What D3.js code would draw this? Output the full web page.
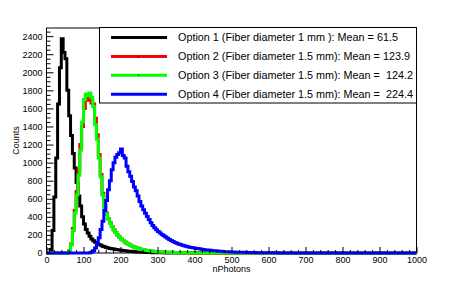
<!DOCTYPE html>
<html>
<head>
<meta charset="utf-8">
<script src="https://cdn.jsdelivr.net/npm/d3@7"></script>
<style>
    body { margin: 0; background: #fff; }
    svg text { font-family: "Liberation Sans", Arial, Helvetica, sans-serif; }
</style>
</head>
<body>
<svg id="chart" width="463" height="282"></svg>
<script>
// Histogram contents, one value per 5-photon bin starting at 0 (bins past the end are empty)
const binWidth = 5;

const option1 = [
    0, 0, 40, 250, 620, 1050, 1650, 2050, 2370, 2220,
    2150, 1800, 1520, 1300, 1100, 940, 780, 630, 520, 400,
    320, 260, 220, 185, 155, 135, 118, 104, 94, 85,
    76, 68, 62, 56, 51, 47, 43, 40, 36, 33,
    30, 27, 24, 22, 20, 18, 16, 14, 12, 11,
    10, 9, 8, 7, 6, 5, 5, 4, 4, 3,
    3, 2, 2, 2, 1, 1, 1, 1
];

const option2 = [
    0, 0, 0, 0, 0, 0, 0, 0, 0, 0, 0, 0,
    25, 100, 270, 470, 680, 910, 1200, 1400, 1600, 1690,
    1720, 1690, 1660, 1650, 1490, 1310, 1090, 870, 660, 520,
    440, 380, 335, 292, 258, 226, 200, 176, 156, 138,
    122, 108, 96, 85, 76, 67, 59, 52, 46, 40,
    36, 31, 28, 24, 22, 19, 17, 15, 14, 12,
    11, 10, 9, 8, 7, 7, 6, 5, 5, 4,
    4, 3, 3, 3, 2, 2, 2, 1, 1, 1, 1
];

const option3 = [
    0, 0, 0, 0, 0, 0, 0, 0, 0, 0, 0, 0,
    20, 90, 250, 440, 640, 860, 1140, 1450, 1700, 1760,
    1740, 1770, 1720, 1620, 1420, 1260, 1050, 840, 640, 500,
    430, 375, 330, 290, 255, 225, 198, 175, 155, 137,
    121, 107, 95, 84, 75, 66, 58, 51, 45, 40,
    35, 31, 27, 24, 21, 19, 17, 15, 13, 12,
    11, 10, 9, 8, 7, 6, 6, 5, 5, 4,
    4, 3, 3, 3, 2, 2, 2, 1, 1, 1, 1
];

const option4 = [
    0, 0, 0, 0, 0, 0, 0, 0, 0, 0, 0, 0, 0, 0, 0, 0, 0, 0, 0, 0, 0, 0, 0,
    3, 10, 25, 55, 100, 170, 260, 350, 470, 580,
    700, 800, 920, 1000, 1060, 1090, 1110, 1150, 1080, 1050,
    960, 900, 850, 790, 730, 690, 630, 570, 520, 480,
    440, 405, 370, 335, 305, 280, 258, 238, 220, 205,
    190, 176, 162, 150, 138, 127, 117, 108, 100, 93,
    86, 80, 74, 70, 65, 61, 57, 53, 49, 46,
    43, 40, 37, 34, 32, 30, 28, 26, 24, 22,
    20, 18, 17, 15, 14, 13, 12, 11, 10, 9,
    9, 8, 8, 7, 7, 6, 6, 5, 5, 5,
    4, 4, 4, 3, 3, 3, 3, 2, 2, 2,
    2, 2, 1, 1, 1, 1, 1, 1, 1
];

const legendLabels = [
    'Option 1 (Fiber diameter 1 mm ): Mean = 61.5',
    'Option 2 (Fiber diameter 1.5 mm): Mean = 123.9',
    'Option 3 (Fiber diameter 1.5 mm): Mean =  124.2',
    'Option 4 (Fiber diameter 1.5 mm): Mean =  224.4'
];
const seriesColors = ['#000000', '#ff0000', '#00ff00', '#0000ff'];

const xTickValues = [0, 100, 200, 300, 400, 500, 600, 700, 800, 900, 1000];
const yTickValues = [0, 200, 400, 600, 800, 1000, 1200, 1400, 1600, 1800, 2000, 2200, 2400];

const xMax = 1000;
const yMax = 2490;

const frame = { left: 46.5, right: 416.5, top: 28, bottom: 253 };

const svg = d3.select('#chart');

const xScale = d3.scaleLinear().domain([0, xMax]).range([frame.left, frame.right]);
const yScale = d3.scaleLinear().domain([0, yMax]).range([frame.bottom, frame.top]);

// Minor tick positions
const xMinor = d3.range(0, xMax + 1, 20).filter(v => v % 100 !== 0);
const yMinor = d3.range(0, yMax, 50).filter(v => v % 200 !== 0);

// Step line for a histogram
function histPoints(values) {
    const nBins = xMax / binWidth;
    const pts = [];
    for (let i = 0; i < nBins; i++) {
        pts.push({ x: i * binWidth, y: values[i] || 0 });
    }
    pts.push({ x: xMax, y: values[nBins - 1] || 0 });
    return pts;
}

const stepLine = d3.line()
    .x(d => xScale(d.x))
    .y(d => yScale(d.y))
    .curve(d3.curveStepAfter);

// Frame
svg.append('rect')
    .attr('x', frame.left)
    .attr('y', frame.top)
    .attr('width', frame.right - frame.left)
    .attr('height', frame.bottom - frame.top)
    .style('fill', '#fff')
    .style('stroke', '#000')
    .style('stroke-width', 1);

// Histograms
[option1, option2, option3, option4].forEach((values, i) => {
    svg.append('path')
        .datum(histPoints(values))
        .attr('d', stepLine)
        .style('fill', 'none')
        .style('stroke', seriesColors[i])
        .style('stroke-width', 3)
        .style('stroke-linejoin', 'miter');
});

// X axis
const xAxis = svg.append('g')
    .attr('transform', `translate(0,${frame.bottom})`)
    .call(d3.axisBottom(xScale)
        .tickValues(xTickValues)
        .tickSize(-6)
        .tickPadding(4)
        .tickFormat(d3.format('d')));
xAxis.append('g')
    .call(d3.axisBottom(xScale)
        .tickValues(xMinor)
        .tickSize(-3)
        .tickFormat(''));

// Y axis
const yAxis = svg.append('g')
    .attr('transform', `translate(${frame.left},0)`)
    .call(d3.axisLeft(yScale)
        .tickValues(yTickValues)
        .tickSize(-7)
        .tickPadding(4)
        .tickFormat(d3.format('d')));
yAxis.append('g')
    .call(d3.axisLeft(yScale)
        .tickValues(yMinor)
        .tickSize(-4)
        .tickFormat(''));

svg.selectAll('.domain').remove();
svg.selectAll('.tick line').style('stroke', '#000');
svg.selectAll('.tick text')
    .style('font-size', '9px')
    .style('fill', '#000');

// Axis titles
svg.append('text')
    .attr('x', (frame.left + frame.right) / 2)
    .attr('y', 272)
    .attr('text-anchor', 'middle')
    .style('font-size', '9px')
    .text('nPhotons');

svg.append('text')
    .attr('transform', `translate(18.5,${(frame.top + frame.bottom) / 2}) rotate(-90)`)
    .attr('text-anchor', 'middle')
    .style('font-size', '9px')
    .text('Counts');

// Legend
const legend = svg.append('g');
legend.append('rect')
    .attr('x', 99.5)
    .attr('y', 27.5)
    .attr('width', 317)
    .attr('height', 75.5)
    .style('fill', '#fff')
    .style('stroke', '#000')
    .style('stroke-width', 1);

legendLabels.forEach((label, i) => {
    const rowY = 37.5 + i * 18.9;
    legend.append('line')
        .attr('x1', 111)
        .attr('x2', 167)
        .attr('y1', rowY)
        .attr('y2', rowY)
        .style('stroke', seriesColors[i])
        .style('stroke-width', 3);
    legend.append('rect')
        .attr('x', 138)
        .attr('y', rowY - 0.5)
        .attr('width', 1)
        .attr('height', 1)
        .style('fill', '#000');
    legend.append('text')
        .attr('x', 178)
        .attr('y', rowY + 3.8)
        .attr('xml:space', 'preserve')
        .style('white-space', 'pre')
        .style('font-size', '10.8px')
        .text(label);
});
</script>
</body>
</html>
